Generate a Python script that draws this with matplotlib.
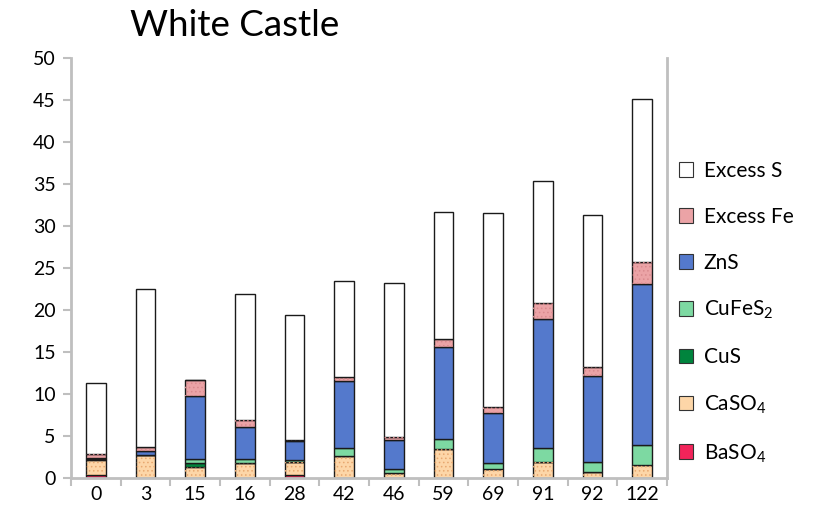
import numpy as np
import matplotlib
matplotlib.use("Agg")
import matplotlib.pyplot as plt
from matplotlib.patches import Patch

plt.rcParams["font.family"] = ["Lato", "DejaVu Sans"]
plt.rcParams["mathtext.fontset"] = "custom"
plt.rcParams["mathtext.rm"] = "Lato"
plt.rcParams["hatch.linewidth"] = 0.6

# data
categories = ["0", "3", "15", "16", "28", "42", "46", "59", "69", "91", "92", "122"]
baso4 = [0.30, 0.00, 0.00, 0.00, 0.33, 0.00, 0.00, 0.00, 0.00, 0.00, 0.00, 0.00]
caso4 = [1.80, 2.75, 1.30, 1.80, 1.52, 2.64, 0.62, 3.48, 1.10, 1.88, 0.77, 1.57]
cus = [0.20, 0.00, 0.50, 0.00, 0.00, 0.00, 0.00, 0.00, 0.00, 0.00, 0.00, 0.00]
cufes2 = [0.05, 0.00, 0.44, 0.49, 0.32, 0.96, 0.48, 1.14, 0.71, 1.72, 1.19, 2.38]
zns = [0.00, 0.49, 7.55, 3.81, 2.18, 7.92, 3.48, 10.92, 5.95, 15.39, 10.24, 19.20]
excess_fe = [0.48, 0.51, 1.85, 0.78, 0.20, 0.56, 0.32, 0.98, 0.72, 1.87, 1.04, 2.62]
excess_s = [8.50, 18.75, 0.00, 15.00, 14.80, 11.42, 18.34, 15.21, 23.12, 14.56, 18.09, 19.41]

series = [
    ("BaSO$_4$", baso4, "#F2245A", None, None),
    ("CaSO$_4$", caso4, "#FDD6A8", "....", "#E8A870"),
    ("CuS", cus, "#00843D", None, None),
    ("CuFeS$_2$", cufes2, "#7DD9A2", None, None),
    ("ZnS", zns, "#5479CC", None, None),
    ("Excess Fe", excess_fe, "#EBA3A6", "....", "#D98A8E"),
    ("Excess S", excess_s, "#FFFFFF", None, None),
]

fig = plt.figure(figsize=(8.23, 5.28), dpi=100)
ax = fig.add_axes([0.0863, 0.0947, 0.7241, 0.7953])

x = np.arange(len(categories))
bottom = np.zeros(len(categories))
handles = []
for name, vals, color, hatch, hcolor in series:
    vals = np.array(vals)
    ax.bar(x, vals, 0.4, bottom=bottom, color=color, edgecolor="#1A1A1A",
           linewidth=1.0, zorder=2)
    if hatch:
        ax.bar(x, vals, 0.4, bottom=bottom, color="none", edgecolor=hcolor,
               hatch=hatch, linewidth=0, zorder=2.5)
    handles.append(Patch(facecolor=color, edgecolor="#333333", linewidth=0.8,
                         label=name))
    bottom += vals

ax.set_xlim(-0.5, len(categories) - 0.5)
ax.set_ylim(0, 50)
ax.set_yticks(np.arange(0, 51, 5))
ax.set_xticks(x)
ax.set_xticklabels(categories)
ax.set_xticks(np.arange(-0.5, len(categories)), minor=True)
ax.tick_params(axis="x", which="major", length=0, labelsize=14, pad=6)
ax.tick_params(axis="x", which="minor", length=6, width=1.5, color="#BFBFBF")
ax.tick_params(axis="y", length=6, width=1.5, color="#BFBFBF", labelsize=14,
               pad=5)

for side in ["left", "bottom", "right"]:
    ax.spines[side].set_color("#BFBFBF")
    ax.spines[side].set_linewidth(2)
ax.spines["top"].set_visible(False)

fig.text(0.285, 0.952, "White Castle", fontsize=26.5, ha="center", va="center")

fig.legend(handles=handles[::-1], loc="center left",
           bbox_to_anchor=(0.812, 0.408), frameon=False, fontsize=15,
           handlelength=0.7, handleheight=0.7, handletextpad=0.5,
           labelspacing=1.25, borderpad=0)

plt.savefig("out.png", dpi=100)
